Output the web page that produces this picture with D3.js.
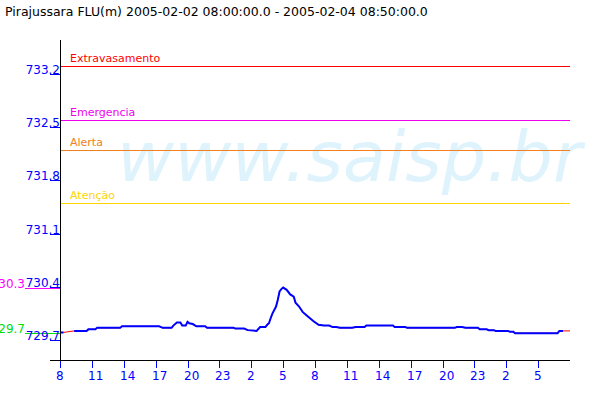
<!DOCTYPE html>
<html><head><meta charset="utf-8">
<script src="https://cdn.jsdelivr.net/npm/d3@7"></script>
<style>
body{margin:0;background:#fff}
svg{display:block}
text{font-family:"DejaVu Sans",sans-serif}
</style>
</head><body>
<svg id="c" width="600" height="400"></svg>
<script>
const title = "Pirajussara FLU(m) 2005-02-02 08:00:00.0 - 2005-02-04 08:50:00.0";
const watermark = "www.saisp.br";

const times = [
"2005-02-02 08:00","2005-02-02 08:20","2005-02-02 08:50","2005-02-02 09:20","2005-02-02 10:30","2005-02-02 10:40",
"2005-02-02 11:20","2005-02-02 11:30","2005-02-02 13:40","2005-02-02 13:50","2005-02-02 17:20","2005-02-02 17:40",
"2005-02-02 18:30","2005-02-02 18:40","2005-02-02 19:00","2005-02-02 19:20","2005-02-02 19:30","2005-02-02 19:50",
"2005-02-02 20:00","2005-02-02 20:10","2005-02-02 20:30","2005-02-02 20:50","2005-02-02 21:40","2005-02-02 21:50",
"2005-02-03 00:20","2005-02-03 00:30","2005-02-03 01:20","2005-02-03 01:40","2005-02-03 02:30","2005-02-03 02:50",
"2005-02-03 03:20","2005-02-03 03:30","2005-02-03 03:40","2005-02-03 03:50","2005-02-03 04:00","2005-02-03 04:20",
"2005-02-03 04:30","2005-02-03 04:40","2005-02-03 04:50","2005-02-03 05:00","2005-02-03 05:20","2005-02-03 05:40",
"2005-02-03 06:00","2005-02-03 06:10","2005-02-03 06:30","2005-02-03 06:50","2005-02-03 07:10","2005-02-03 07:30",
"2005-02-03 07:50","2005-02-03 08:20","2005-02-03 08:50","2005-02-03 09:20","2005-02-03 09:40","2005-02-03 10:00",
"2005-02-03 10:20","2005-02-03 11:30","2005-02-03 11:50","2005-02-03 12:40","2005-02-03 12:50","2005-02-03 15:20",
"2005-02-03 15:30","2005-02-03 16:30","2005-02-03 16:40","2005-02-03 21:10","2005-02-03 21:20","2005-02-03 21:50",
"2005-02-03 22:10","2005-02-03 23:20","2005-02-03 23:30","2005-02-04 00:10","2005-02-04 00:20","2005-02-04 00:50",
"2005-02-04 01:00","2005-02-04 02:10","2005-02-04 02:20","2005-02-04 02:40","2005-02-04 02:50","2005-02-04 06:50",
"2005-02-04 07:00","2005-02-04 07:20","2005-02-04 07:40","2005-02-04 08:00"
];
const levels = [
729.80,729.80,null,729.82,729.82,729.84,
729.84,729.86,729.86,729.88,729.88,729.86,
729.86,729.89,729.93,729.93,729.89,729.89,
729.94,729.92,729.91,729.88,729.88,729.86,
729.86,729.85,729.85,729.83,729.82,729.87,
729.87,729.90,729.92,729.99,730.05,730.14,
730.23,730.34,730.37,730.39,730.36,730.30,
730.27,730.19,730.14,730.07,730.03,729.99,
729.95,729.90,729.89,729.89,729.87,729.87,
729.86,729.86,729.87,729.87,729.89,729.89,
729.87,729.87,729.86,729.86,729.87,729.87,
729.86,729.86,729.84,729.84,729.83,729.83,
729.82,729.82,729.81,729.81,729.79,729.79,
729.82,729.82,null,729.82
];

const thresholdNames = ["Extravasamento","Emergencia","Alerta","Atenção"];
const thresholdValues = [733.3, 732.6, 732.2, 731.5];
const thresholdColors = ["#ff0000","#ee00ee","#f08020","#ffd400"];

const yTickValues = [729.7, 730.4, 731.1, 731.8, 732.5, 733.2];
const xTickLabels = ["8","11","14","17","20","23","2","5","8","11","14","17","20","23","2","5"];
const xDomain = ["2005-02-02 08:00","2005-02-04 08:00"];
const yDomain = [729.437, 733.647];

const parse = d3.timeParse("%Y-%m-%d %H:%M");
const data = times.map((t,i)=>({t:parse(t), v:levels[i]}));

const svg = d3.select("#c");
const L=60, R=570, T=40, B=360;
const x = d3.scaleTime().domain(xDomain.map(parse)).range([L,R]);
const y = d3.scaleLinear().domain(yDomain).range([B,T]);
const py = v => Math.round(y(v)) + 0.5;

// watermark
svg.append("text").attr("x",117).attr("y",181)
  .attr("font-size",70).attr("font-style","italic")
  .attr("fill","#def3fc").text(watermark);

// title
svg.append("text").attr("x",5).attr("y",16).attr("font-size",12.5)
  .attr("fill","#000").text(title);

// thresholds
thresholdValues.forEach((v,i)=>{
  svg.append("line").attr("x1",L).attr("x2",R).attr("y1",py(v)).attr("y2",py(v))
    .attr("stroke",thresholdColors[i]).attr("stroke-width",1).attr("shape-rendering","crispEdges");
  svg.append("text").attr("x",70).attr("y",Math.round(y(v))-4).attr("font-size",11)
    .attr("fill",thresholdColors[i]).text(thresholdNames[i]);
});

// gap (interpolated) line in red
const lineAll = d3.line().x(d=>x(d.t)).y(d=>y(d.v));
svg.append("path").datum(data.filter(d=>d.v!=null)).attr("d",lineAll)
  .attr("fill","none").attr("stroke","#ff0000").attr("stroke-width",1);
// data line
const line = d3.line().defined(d=>d.v!=null).x(d=>x(d.t)).y(d=>y(d.v));
svg.append("path").datum(data).attr("d",line)
  .attr("fill","none").attr("stroke","#0000ff").attr("stroke-width",2);

// min / max markers
const vals = levels.filter(v=>v!=null);
const vmax = d3.max(vals), vmin = d3.min(vals);
const fl = v => (Math.floor(v*10+1e-9)/10).toFixed(1);
[[vmax,"#ff00ff"],[vmin,"#00e000"]].forEach(([v,c])=>{
  svg.append("line").attr("x1",25).attr("x2",L).attr("y1",py(v)).attr("y2",py(v))
    .attr("stroke",c).attr("shape-rendering","crispEdges");
  svg.append("text").attr("x",25).attr("y",Math.round(y(v))).attr("text-anchor","end")
    .attr("font-size",12).attr("fill",c).text(fl(v));
});

// y axis
const gy = svg.append("g");
yTickValues.forEach(v=>{
  gy.append("line").attr("x1",50).attr("x2",L).attr("y1",py(v)).attr("y2",py(v))
    .attr("stroke","#0000ff").attr("shape-rendering","crispEdges");
  gy.append("text").attr("x",L).attr("y",Math.round(y(v))).attr("text-anchor","end")
    .attr("font-size",12).attr("fill","#0000ff").text(v.toFixed(1));
});
svg.append("line").attr("x1",L+0.5).attr("x2",L+0.5).attr("y1",T).attr("y2",B)
  .attr("stroke","#000").attr("shape-rendering","crispEdges");

// x axis: every 3 hours counted from the start time
const [x0, x1] = xDomain.map(parse);
const xTicks = d3.timeHour.range(x0, x1, 3);
const gx = svg.append("g");
xTicks.forEach((t,i)=>{
  const xx = Math.round(x(t))+0.5;
  gx.append("line").attr("x1",xx).attr("x2",xx).attr("y1",B).attr("y2",B+8)
    .attr("stroke","#0000ff").attr("shape-rendering","crispEdges");
  gx.append("text").attr("x",Math.round(x(t))-4).attr("y",B+20)
    .attr("font-size",12).attr("fill","#0000ff").text(xTickLabels[i]);
});
svg.append("line").attr("x1",50).attr("x2",R).attr("y1",B+0.5).attr("y2",B+0.5)
  .attr("stroke","#000").attr("shape-rendering","crispEdges");
</script>
</body></html>
